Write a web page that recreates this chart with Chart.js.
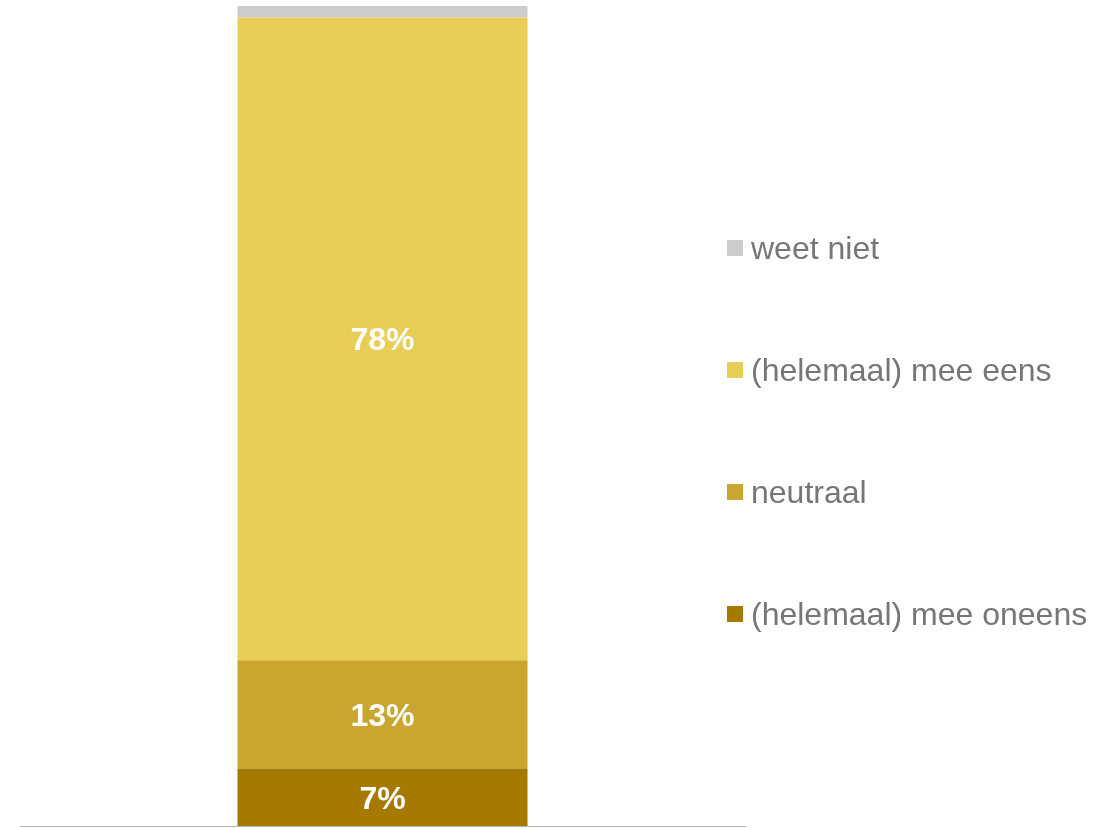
<!DOCTYPE html>
<html>
<head>
<meta charset="utf-8">
<script src="https://cdn.jsdelivr.net/npm/chart.js@4.4.0/dist/chart.umd.min.js"></script>
<style>
  html, body { margin: 0; padding: 0; background: #fff; }
</style>
</head>
<body>
<canvas id="stack-chart" width="1114" height="828"></canvas>
<script>
// one stacked column, shares in percent (bottom to top)
const categories = [""];
const seriesNames = ["(helemaal) mee oneens", "neutraal", "(helemaal) mee eens", "weet niet"];
const oneensValues = [7];
const neutraalValues = [13.2];
const eensValues = [78.4];
const weetNietValues = [1.4];
const colors = ["#a67900", "#c9a62f", "#e8cd57", "#cccccc"];

const stackChart = document.querySelector("#stack-chart");

//white percent labels in the middle of each segment, not for "weet niet"
const segmentLabels = {
  id: "segmentLabels",
  afterDatasetsDraw(chart) {
    const ctx = chart.ctx;
    ctx.save();
    ctx.font = "bold 32px 'Liberation Sans', Arial, sans-serif";
    ctx.fillStyle = "#ffffff";
    ctx.textAlign = "center";
    ctx.textBaseline = "alphabetic";
    chart.data.datasets.forEach((ds, i) => {
      if (i === 3) return;
      const meta = chart.getDatasetMeta(i);
      meta.data.forEach((bar, j) => {
        const mid = (bar.y + bar.base) / 2;
        ctx.fillText(Math.round(ds.data[j]) + "%", bar.x, mid + 11.5);
      });
    });
    ctx.restore();
  }
};

//legend on the right, top item is the top of the stack
const sideLegend = {
  id: "sideLegend",
  afterDraw(chart) {
    const ctx = chart.ctx;
    const items = chart.data.datasets.slice().reverse();
    ctx.save();
    ctx.font = "32px 'Liberation Sans', Arial, sans-serif";
    ctx.textAlign = "left";
    ctx.textBaseline = "alphabetic";
    items.forEach((ds, i) => {
      const y = 248 + i * 122;
      ctx.fillStyle = ds.backgroundColor;
      ctx.fillRect(727, y - 8, 16, 16);
      ctx.fillStyle = "#767676";
      ctx.fillText(ds.label, 751, y + 11);
    });
    ctx.restore();
  }
};

const makeSet = (label, data, color) => ({
  label: label,
  data: data,
  backgroundColor: color,
  borderWidth: 0,
  categoryPercentage: 0.4,
  barPercentage: 1,
});

new Chart(stackChart, {
  type: "bar",
  data: {
    labels: categories,
    datasets: [
      makeSet(seriesNames[0], oneensValues, colors[0]),
      makeSet(seriesNames[1], neutraalValues, colors[1]),
      makeSet(seriesNames[2], eensValues, colors[2]),
      makeSet(seriesNames[3], weetNietValues, colors[3]),
    ],
  },
  options: {
    responsive: false,
    animation: false,
    layout: { padding: { left: 20, right: 369, top: 6, bottom: 2 } },
    plugins: { legend: { display: false }, tooltip: { enabled: false } },
    scales: {
      x: {
        stacked: true,
        grid: { display: false, drawTicks: false, tickLength: 0 },
        border: { display: true, color: "#b4b4b4", width: 1 },
        ticks: { display: false, padding: 0 },
      },
      y: {
        stacked: true,
        display: false,
        min: 0,
        max: 100,
      },
    },
  },
  plugins: [segmentLabels, sideLegend],
});
</script>
</body>
</html>
